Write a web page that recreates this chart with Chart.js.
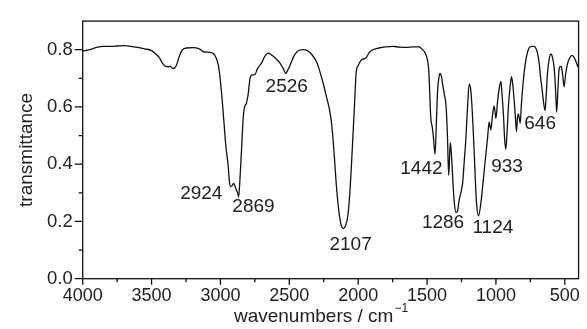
<!DOCTYPE html>
<html>
<head>
<meta charset="utf-8">
<script src="https://cdn.jsdelivr.net/npm/chart.js@4.4.1/dist/chart.umd.min.js"></script>
<style>
  body { margin: 0; background: #fff; }
  #wrap { width: 587px; height: 329px; }
</style>
</head>
<body>
<div id="wrap"><canvas id="myChart" width="587" height="329"></canvas></div>
<script>
// IR spectrum
var wavenumber = [4000,3950,3900,3850,3800,3750,3700,3650,3600,3550,3500,3470,3440,3420,3400,3380,3365,3345,3320,3300,3280,3250,3200,3150,3120,3080,3050,3030,3015,3000,2990,2975,2960,2945,2935,2925,2915,2905,2895,2885,2875,2868,2858,2848,2835,2825,2812,2800,2785,2770,2750,2730,2700,2680,2655,2630,2600,2570,2545,2526,2510,2495,2470,2440,2400,2370,2340,2300,2270,2250,2230,2210,2195,2183,2172,2160,2148,2136,2122,2107,2092,2075,2062,2051,2040,2027,2015,2000,1979,1960,1942,1920,1894,1850,1800,1750,1700,1650,1600,1560,1532,1515,1500,1490,1483,1475,1470,1462,1455,1442,1432,1423,1413,1406,1395,1387,1375,1362,1352,1343,1336,1331,1324,1319,1310,1302,1290,1280,1266,1250,1242,1230,1218,1206,1194,1184,1174,1165,1157,1149,1141,1126,1109,1097,1085,1073,1061,1049,1037,1025,1013,1000,988,976,964,955,945,937,928,918,909,897,887,877,867,858,851,844,837,830,824,815,807,795,783,771,759,740,723,710,699,685,675,667,655,643,634,626,614,602,590,578,568,559,550,542,532,525,515,505,495,481,465,449,435,420,404]
var transmittance = [0.795,0.800,0.808,0.812,0.812,0.813,0.814,0.812,0.808,0.803,0.797,0.785,0.770,0.752,0.742,0.740,0.742,0.734,0.745,0.775,0.798,0.806,0.807,0.802,0.792,0.791,0.786,0.770,0.745,0.690,0.640,0.550,0.460,0.400,0.340,0.322,0.325,0.333,0.325,0.310,0.300,0.286,0.350,0.440,0.560,0.600,0.612,0.640,0.700,0.712,0.713,0.735,0.755,0.775,0.788,0.782,0.770,0.755,0.735,0.717,0.730,0.745,0.775,0.795,0.800,0.797,0.785,0.755,0.710,0.675,0.635,0.595,0.550,0.490,0.420,0.335,0.270,0.220,0.185,0.175,0.185,0.220,0.290,0.378,0.480,0.604,0.717,0.745,0.763,0.768,0.772,0.790,0.800,0.806,0.810,0.812,0.809,0.808,0.810,0.810,0.800,0.790,0.770,0.740,0.683,0.580,0.548,0.530,0.500,0.435,0.550,0.660,0.705,0.717,0.705,0.680,0.645,0.604,0.500,0.361,0.430,0.475,0.440,0.400,0.320,0.265,0.232,0.235,0.277,0.310,0.333,0.410,0.490,0.600,0.680,0.665,0.604,0.520,0.435,0.340,0.265,0.220,0.265,0.320,0.378,0.435,0.490,0.548,0.520,0.570,0.604,0.560,0.620,0.665,0.689,0.640,0.570,0.490,0.452,0.520,0.604,0.670,0.706,0.675,0.620,0.560,0.514,0.560,0.576,0.560,0.543,0.610,0.660,0.720,0.763,0.790,0.807,0.812,0.812,0.805,0.790,0.750,0.700,0.670,0.620,0.587,0.650,0.717,0.765,0.785,0.775,0.740,0.670,0.582,0.660,0.730,0.742,0.740,0.710,0.670,0.710,0.750,0.770,0.780,0.775,0.760,0.740]

var xTicks = [4000,3500,3000,2500,2000,1500,1000,500]
var xMinor = [3750,3250,2750,2250,1750,1250,750]
var yTicks = [0.0,0.2,0.4,0.6,0.8]
var yMinor = [0.1,0.3,0.5,0.7]

// peak labels
var peakText = ["2924","2869","2526","2107","1442","1286","1124","933","646"]
var peakX = [3139,2760,2519,2055,1541,1384,1022,919,679]
var peakY = [0.296,0.252,0.670,0.119,0.383,0.196,0.178,0.392,0.540]

var xTitle = "wavenumbers / cm"
var xTitleSup = "\u22121"

var FONT = "'Liberation Sans', Arial, Helvetica, sans-serif"

var points = []
for (var i = 0; i < wavenumber.length; i++) {
	points.push({x: wavenumber[i], y: transmittance[i]})
}

var framePlugin = {
	id: 'frame',
	afterDraw: function(chart) {
		var ctx = chart.ctx, a = chart.chartArea
		var xs = chart.scales.x, ys = chart.scales.y
		ctx.save()
		ctx.strokeStyle = '#111'
		ctx.lineWidth = 1.3
		ctx.strokeRect(a.left, a.top, a.right - a.left, a.bottom - a.top)
		ctx.beginPath()
		xTicks.forEach(function(v){
			var p = xs.getPixelForValue(v)
			ctx.moveTo(p, a.bottom); ctx.lineTo(p, a.bottom + 6)
		})
		xMinor.forEach(function(v){
			var p = xs.getPixelForValue(v)
			ctx.moveTo(p, a.bottom); ctx.lineTo(p, a.bottom + 3.5)
		})
		yTicks.forEach(function(v){
			var p = ys.getPixelForValue(v)
			ctx.moveTo(a.left, p); ctx.lineTo(a.left - 8, p)
		})
		yMinor.forEach(function(v){
			var p = ys.getPixelForValue(v)
			ctx.moveTo(a.left, p); ctx.lineTo(a.left - 4, p)
		})
		ctx.stroke()

		ctx.fillStyle = '#222'
		ctx.font = "19px " + FONT
		ctx.textAlign = 'center'
		ctx.textBaseline = 'middle'
		for (var k = 0; k < peakText.length; k++) {
			ctx.fillText(peakText[k], xs.getPixelForValue(peakX[k]), ys.getPixelForValue(peakY[k]))
		}

		// x axis title with superscript
		ctx.textAlign = 'left'
		ctx.textBaseline = 'alphabetic'
		var w1 = ctx.measureText(xTitle).width
		ctx.font = "12px " + FONT
		var w2 = ctx.measureText(xTitleSup).width
		var x0 = 321 - (w1 + w2 + 1) / 2
		ctx.font = "19px " + FONT
		ctx.fillText(xTitle, x0, 321.7)
		ctx.font = "12px " + FONT
		ctx.fillText(xTitleSup, x0 + w1 + 1, 312)
		ctx.restore()
	}
}

var chart = new Chart(document.getElementById("myChart"), {
	type: 'line',
	data: {
		datasets: [{
			data: points,
			borderColor: '#111',
			borderWidth: 1.3,
			pointRadius: 0,
			fill: false,
			cubicInterpolationMode: 'monotone'
		}]
	},
	options: {
		responsive: false,
		animation: false,
		layout: { padding: { top: 12.7, right: 7, left: 0, bottom: 0 } },
		plugins: { legend: { display: false }, tooltip: { enabled: false } },
		scales: {
			x: {
				type: 'linear',
				reverse: true,
				min: 400,
				max: 4000,
				grid: { display: false, drawTicks: false },
				border: { display: false },
				afterBuildTicks: function(s){ s.ticks = xTicks.map(function(v){ return {value: v} }) },
				afterFit: function(s){ s.height = 50.3 },
				ticks: {
					autoSkip: false, maxRotation: 0, padding: 7,
					color: '#222', font: { family: FONT, size: 18 },
					callback: function(v){ return String(v) }
				},
				title: { display: false }
			},
			y: {
				min: 0,
				max: 0.9,
				grid: { display: false, drawTicks: false },
				border: { display: false },
				afterBuildTicks: function(s){ s.ticks = yTicks.map(function(v){ return {value: v} }) },
				afterFit: function(s){ s.width = 82.7 },
				ticks: {
					padding: 10,
					color: '#222', font: { family: FONT, size: 18.5 },
					callback: function(v){ return v.toFixed(1) }
				},
				title: {
					display: true, text: 'transmittance',
					color: '#222', font: { family: FONT, size: 19 },
					padding: { top: 15, bottom: 0 }
				}
			}
		}
	},
	plugins: [framePlugin]
})
</script>
</body>
</html>
